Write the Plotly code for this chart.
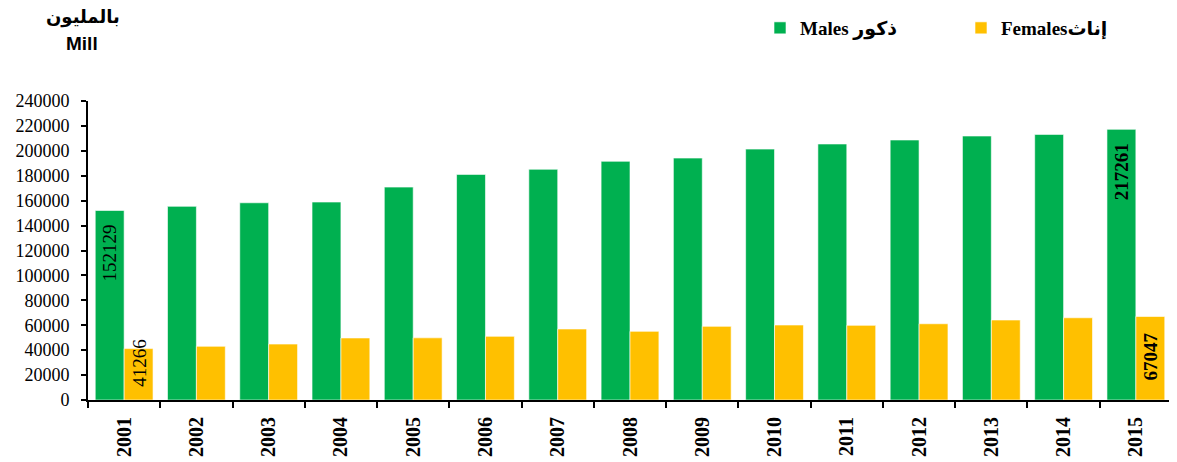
import plotly.graph_objects as go

years = ["2001", "2002", "2003", "2004", "2005", "2006", "2007", "2008",
         "2009", "2010", "2011", "2012", "2013", "2014", "2015"]
males = [152129, 155450, 158300, 158900, 170900, 181100, 185200, 191600,
         194200, 201400, 205500, 208700, 211900, 213200, 217261]
females = [41266, 43100, 44900, 49800, 49900, 51100, 57000, 55100,
           59100, 60200, 59900, 61200, 64200, 66000, 67047]
y_ticks = list(range(0, 240001, 20000))

GREEN = "#00B050"
YELLOW = "#FFC000"
SERIF = "Liberation Serif, Times New Roman, DejaVu Sans"
SANS = "Liberation Sans, Arial, DejaVu Sans"

# page body has an 8px margin; figure size/margins compensate for it
OFF = 8
W, H = 1177 - OFF, 462 - OFF
ML, MR, MT, MB = 88 - OFF, 5, 101 - OFF, 62
pw, ph = W - ML - MR, H - MT - MB


def px_x(px):
    return (px - OFF - ML) / pw


def px_y(py):
    return (H - MB - (py - OFF)) / ph


fig = go.Figure()
fig.add_trace(go.Bar(
    x=years, y=males, name="<b>Males ذكور</b>",
    marker=dict(color=GREEN, line=dict(color="rgba(255,255,255,0.6)", width=1)),
))
fig.add_trace(go.Bar(
    x=years, y=females, name="<b>Femalesإناث</b>",
    marker=dict(color=YELLOW, line=dict(color="rgba(255,255,255,0.6)", width=1)),
))

i0, i1 = 0, len(years) - 1
label_font = dict(family=SERIF, size=19, color="black")
annots = [
    dict(x=i0, y=males[i0], xref="x", yref="y", text=str(males[i0]),
         textangle=-90, showarrow=False, yanchor="top", yshift=-12,
         xshift=-14.5, font=label_font),
    dict(x=i0, y=0, xref="x", yref="y", text=str(females[i0]),
         textangle=-90, showarrow=False, yanchor="bottom", yshift=11,
         xshift=14.5, font=label_font),
    dict(x=i1, y=males[i1], xref="x", yref="y", text="<b>%d</b>" % males[i1],
         textangle=-90, showarrow=False, yanchor="top", yshift=-12,
         xshift=-14.5, font=label_font),
    dict(x=i1, y=females[i1] / 2, xref="x", yref="y", text="<b>%d</b>" % females[i1],
         textangle=-90, showarrow=False, yanchor="middle", yshift=2,
         xshift=14.5, font=label_font),
    dict(x=px_x(83), y=px_y(18), xref="paper", yref="paper", text="<b>بالمليون</b>",
         xanchor="center", yanchor="middle", borderpad=0,
         showarrow=False, font=dict(family=SANS, size=18, color="black")),
    dict(x=px_x(82), y=px_y(44), xref="paper", yref="paper", text="<b>Mill</b>",
         xanchor="center", yanchor="middle",
         showarrow=False, font=dict(family=SANS, size=19, color="black")),
]

fig.update_layout(
    width=W, height=H,
    margin=dict(l=ML, r=MR, t=MT, b=MB, pad=0, autoexpand=False),
    paper_bgcolor="white", plot_bgcolor="white",
    barmode="group", bargap=0.2, bargroupgap=0,
    showlegend=True,
    legend=dict(orientation="h", x=px_x(760), xanchor="left",
                y=px_y(28), yanchor="middle",
                font=dict(family=SERIF, size=19, color="black"),
                entrywidth=156, entrywidthmode="pixels",
                bgcolor="rgba(0,0,0,0)"),
    annotations=annots,
    xaxis=dict(type="category", range=[-0.5, len(years) - 0.5],
               showline=True, linecolor="black", linewidth=2,
               ticks="outside", tickson="boundaries", ticklen=6, tickwidth=2,
               tickcolor="black", tickangle=-90, showgrid=False,
               tickfont=dict(family=SERIF, size=20, color="black", weight="bold"),
               ticklabelstandoff=7, automargin=False),
    yaxis=dict(range=[0, 240000], tickvals=y_ticks, ticktext=[str(v) for v in y_ticks],
               showline=True, linecolor="black", linewidth=2,
               ticks="outside", ticklen=5, tickwidth=2, tickcolor="black",
               showgrid=False, zeroline=False,
               tickfont=dict(family=SERIF, size=18, color="black"),
               ticklabelstandoff=8, automargin=False),
)

fig.write_html("out.html")
